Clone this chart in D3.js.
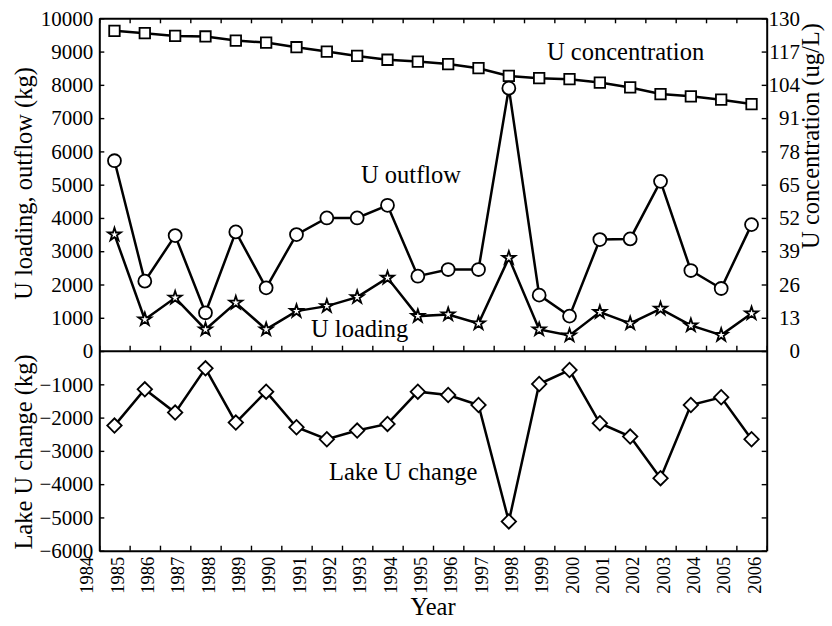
<!DOCTYPE html>
<html>
<head>
<meta charset="utf-8">
<script src="https://cdn.jsdelivr.net/npm/d3@7"></script>
<style>
  body { margin: 0; background: #fff; }
  svg { display: block; }
  text { font-family: "Liberation Serif", "Times New Roman", serif; fill: #000; }
</style>
</head>
<body>
<svg id="chart" width="832" height="626"></svg>
<script>
// ---- data ----
const years = [1985,1986,1987,1988,1989,1990,1991,1992,1993,1994,1995,1996,1997,1998,1999,2000,2001,2002,2003,2004,2005,2006];
const concentration = [125.1,124.2,123.1,122.9,121.3,120.5,118.7,117.0,115.3,113.8,113.1,112.1,110.5,107.5,106.6,106.2,104.9,103.0,100.4,99.5,98.2,96.5];
const outflow = [5720,2100,3470,1150,3580,1900,3500,4000,4000,4380,2250,2450,2450,7900,1680,1050,3350,3370,5100,2420,1880,3800];
const loading = [3500,950,1600,650,1450,650,1200,1350,1620,2200,1050,1100,830,2800,650,470,1170,830,1270,770,480,1130];
const lakeChange = [-2240,-1150,-1850,-520,-2150,-1220,-2290,-2650,-2390,-2190,-1220,-1320,-1620,-5120,-990,-570,-2170,-2570,-3820,-1620,-1390,-2650];
const yearTicks = d3.range(1984, 2007);
const leftTicks = d3.range(-6000, 10001, 1000);
const rightTicks = d3.range(-78, 131, 13);

// ---- layout ----
const L = 99.3, R = 766.7, T = 18.3, M = 350.7, B = 550.7;
const svg = d3.select("#chart");

const x = d3.scaleLinear().domain([1984, 2006]).range([L, R]);
const y = d3.scaleLinear().domain([-6000, 10000]).range([B, T]);
const yR = d3.scaleLinear().domain([-78, 130]).range([B, T]);
const px = d => x(d - 0.5);
const serif = "'Liberation Serif', 'Times New Roman', serif";

function styleAxis(g, domainW) {
  g.attr("font-family", null).attr("font-size", null);
  g.select(".domain").attr("stroke", "#000").attr("stroke-width", domainW);
  g.selectAll(".tick line").attr("stroke", "#000").attr("stroke-width", 1.4);
}

// top border
svg.append("g").attr("transform", `translate(0,${T})`)
  .call(d3.axisTop(x).tickValues(yearTicks).tickSize(-5).tickSizeOuter(0).tickFormat(""))
  .call(g => styleAxis(g, 2));
// middle line
svg.append("g").attr("transform", `translate(0,${M})`)
  .call(d3.axisBottom(x).tickValues(yearTicks).tickSize(-5).tickSizeOuter(0).tickFormat(""))
  .call(g => styleAxis(g, 2));
// bottom axis
const gx = svg.append("g").attr("transform", `translate(0,${B})`)
  .call(d3.axisBottom(x).tickValues(yearTicks).tickSize(-5).tickSizeOuter(0).tickFormat(d3.format("d")))
  .call(g => styleAxis(g, 2));
gx.selectAll(".tick text")
  .attr("x", 0).attr("y", 0).attr("dy", null)
  .attr("transform", "translate(-6.5,6) rotate(-90)")
  .attr("text-anchor", "end")
  .style("font-size", "18.5px")
  .style("font-family", serif);

// left axis
const gl = svg.append("g").attr("transform", `translate(${L},0)`)
  .call(d3.axisLeft(y).tickValues(leftTicks).tickSize(-5).tickSizeOuter(0).tickPadding(6).tickFormat(d3.format("d")))
  .call(g => styleAxis(g, 2));
gl.selectAll(".tick text").style("font-size", "21px").style("font-family", serif);

// right axis
const gr = svg.append("g").attr("transform", `translate(${R},0)`)
  .call(d3.axisRight(yR).tickValues(rightTicks).tickSize(-5).tickSizeOuter(0)
    .tickFormat(d => d >= 0 ? d3.format("d")(d) : ""))
  .call(g => styleAxis(g, 2));
gr.selectAll(".tick text").attr("x", 33.3).attr("text-anchor", "end")
  .style("font-size", "21px").style("font-family", serif);

// ---- series ----
const lineW = 2.5;
function drawSeries(vals, yScale, symType, size, rot) {
  const pts = years.map((yr, i) => [px(yr), yScale(vals[i])]);
  svg.append("path").attr("d", d3.line()(pts))
    .attr("fill", "none").attr("stroke", "#000").attr("stroke-width", lineW);
  svg.append("g").selectAll("path").data(pts).join("path")
    .attr("d", d3.symbol().type(symType).size(size)())
    .attr("transform", d => `translate(${d[0]},${d[1]}) rotate(${rot})`)
    .attr("fill", "#fff").attr("stroke", "#000").attr("stroke-width", 1.8);
}
drawSeries(concentration, yR, d3.symbolSquare, 110, 0);
drawSeries(outflow, y, d3.symbolCircle, 132, 0);
drawSeries(loading, y, d3.symbolStar, 52, 0);
drawSeries(lakeChange, y, d3.symbolSquare, 104, 45);

// ---- annotations ----
const ann = [
  ["U concentration", 547, 60],
  ["U outflow", 361, 182.5],
  ["U loading", 311, 336.5],
  ["Lake U change", 329, 480]
];
svg.append("g").selectAll("text").data(ann).join("text")
  .attr("x", d => d[1]).attr("y", d => d[2])
  .text(d => d[0]).style("font-size", "24.5px").style("font-family", serif);

// ---- axis titles ----
svg.append("text").attr("transform", "translate(31.5,183.5) rotate(-90)")
  .attr("text-anchor", "middle").style("font-size", "24.5px").style("font-family", serif).text("U loading, outflow (kg)");
svg.append("text").attr("transform", "translate(31.5,452) rotate(-90)")
  .attr("text-anchor", "middle").style("font-size", "24.5px").style("font-family", serif).text("Lake U change (kg)");
svg.append("text").attr("transform", "translate(819,136) rotate(-90)")
  .attr("text-anchor", "middle").style("font-size", "24.5px").style("font-family", serif).text("U concentration (ug/L)");
svg.append("text").attr("x", 433).attr("y", 615)
  .attr("text-anchor", "middle").style("font-size", "24.5px").style("font-family", serif).text("Year");
</script>
</body>
</html>
